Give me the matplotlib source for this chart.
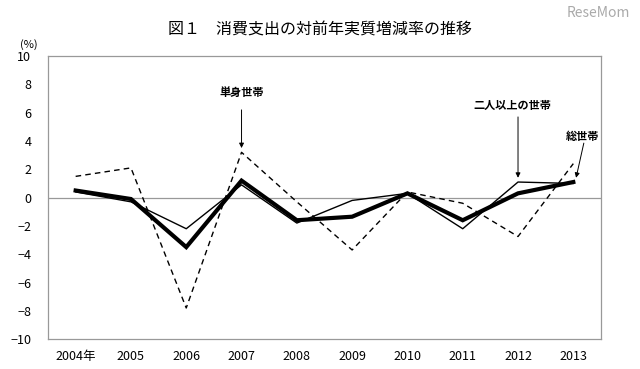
import matplotlib
matplotlib.use("Agg")
import matplotlib.pyplot as plt

plt.rcParams['font.family'] = ['Noto Sans CJK JP', 'DejaVu Sans']

years = ["2004年", "2005", "2006", "2007", "2008", "2009", "2010", "2011", "2012", "2013"]
total = [0.5, -0.1, -3.5, 1.2, -1.6, -1.35, 0.3, -1.6, 0.3, 1.1]
two_plus = [0.4, -0.3, -2.2, 0.9, -1.8, -0.2, 0.3, -2.2, 1.1, 1.0]
single = [1.5, 2.1, -7.8, 3.2, -0.3, -3.7, 0.4, -0.4, -2.75, 2.4]
yticks = [10, 8, 6, 4, 2, 0, -2, -4, -6, -8, -10]

fig = plt.figure(figsize=(6.4, 3.69), dpi=100)
ax = fig.add_axes([0.075, 0.081, 0.864, 0.767])
x = list(range(len(years)))

ax.axhline(0, color="#999999", lw=0.9, zorder=1)
ax.plot(x, single, color="black", lw=1.0, ls=(0, (4, 3)), zorder=2)
ax.plot(x, two_plus, color="black", lw=1.0, zorder=3)
ax.plot(x, total, color="black", lw=3.0, zorder=4, solid_joinstyle="miter")

ax.set_xlim(-0.5, 9.5)
ax.set_ylim(-10, 10)
ax.set_yticks(yticks)
ax.set_yticklabels([str(v).replace("-", "−") for v in yticks], fontsize=9)
ax.set_xticks(x)
ax.set_xticklabels(years, fontsize=9)
ax.tick_params(length=0, pad=8)
ax.tick_params(axis="y", pad=12)
for s in ax.spines.values():
    s.set_color("#999999")
    s.set_linewidth(0.9)

arrow = dict(arrowstyle="-|>", color="black", lw=0.7, mutation_scale=7, shrinkA=0, shrinkB=0)
ax.text(3, 7.4, "単身世帯", ha="center", va="center", fontsize=8, fontweight="bold")
ax.annotate("", xy=(3, 3.5), xytext=(3, 6.2), arrowprops=arrow)
ax.text(7.9, 6.5, "二人以上の世帯", ha="center", va="center", fontsize=8, fontweight="bold")
ax.annotate("", xy=(8, 1.4), xytext=(8, 5.7), arrowprops=arrow)
ax.text(9.17, 4.3, "総世帯", ha="center", va="center", fontsize=8, fontweight="bold")
ax.annotate("", xy=(9.05, 1.4), xytext=(9.19, 3.85), arrowprops=arrow)

fig.text(0.5, 0.919, "図１　消費支出の対前年実質増減率の推移", ha="center", va="center", fontsize=11.5)
fig.text(0.045, 0.88, "(%)", ha="center", va="center", fontsize=8)
fig.text(0.935, 0.965, "ReseMom", ha="center", va="center", fontsize=10, color="#aaaaaa")

fig.savefig("out.png", dpi=100, facecolor="white")
